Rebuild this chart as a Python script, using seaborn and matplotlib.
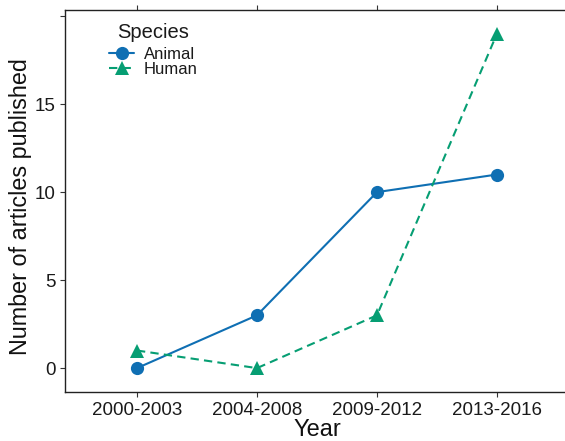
import pandas as pd
import seaborn as sns
import matplotlib.pyplot as plt

# DATA
years = ["2000-2003", "2004-2008", "2009-2012", "2013-2016"]
animal_counts = [0, 3, 10, 11]
human_counts = [1, 0, 3, 19]

df = pd.DataFrame({
    "Year": years * 2,
    "Count": animal_counts + human_counts,
    "Species": ["Animal"] * len(years) + ["Human"] * len(years),
})

# STYLE
sns.set_theme(style="ticks")
plt.rcParams['font.family'] = ['Liberation Sans', 'DejaVu Sans']
palette = {"Animal": "#0F6FB3", "Human": "#069E73"}

fig = plt.figure(figsize=(5.65, 4.41), dpi=100)
# panel runs slightly past the right edge, like the cropped original
ax = fig.add_axes([0.115, 0.111, 0.892, 0.866])

sns.lineplot(data=df, x="Year", y="Count", hue="Species", style="Species",
             markers={"Animal": "o", "Human": "^"},
             dashes={"Animal": "", "Human": (4, 2.5)},
             palette=palette, markersize=9.5, linewidth=1.5,
             markeredgewidth=0, ax=ax)

ax.set_xlim(-0.6, 3.6)
ax.set_ylim(-1.36, 20.34)
ax.set_yticks([0, 5, 10, 15, 20])
ax.set_yticklabels(["0", "5", "10", "15", ""])
ax.set_xlabel("Year", fontsize=17, color="#111111", labelpad=0)
ax.set_ylabel("Number of articles published", fontsize=16.8, color="#111111", labelpad=2)
ax.yaxis.label.set_y(0.485)

ax.tick_params(axis="both", direction="out", length=3.5, width=0.8,
               colors="#333333", labelcolor="#1a1a1a", labelsize=13.5)
ax.tick_params(axis="x", top=True, labeltop=False, pad=4)
for side in ["left", "bottom", "top"]:
    ax.spines[side].set_linewidth(1.0)
    ax.spines[side].set_color("#222222")
ax.spines["right"].set_visible(False)

leg = ax.legend(title="Species", loc="upper left", bbox_to_anchor=(0.088, 0.967),
                frameon=False, fontsize=12, title_fontsize=14.5,
                handlelength=1.5, handletextpad=0.55, labelspacing=0.0,
                borderaxespad=0, borderpad=0)
leg._legend_box.align = "center"
leg._legend_box.sep = 4
for t in leg.get_texts():
    t.set_color("#1a1a1a")
leg.get_title().set_color("#1a1a1a")

plt.savefig("out.png", dpi=100)
plt.close()
